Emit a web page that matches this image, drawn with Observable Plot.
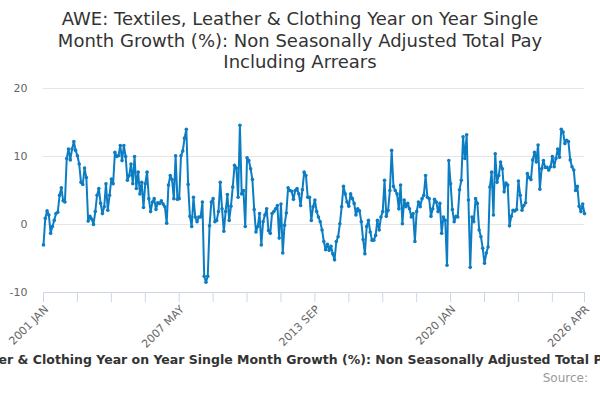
<!DOCTYPE html>
<html>
<head>
<meta charset="utf-8">
<script src="https://cdn.jsdelivr.net/npm/d3@7"></script>
<script src="https://cdn.jsdelivr.net/npm/@observablehq/plot@0.6"></script>
<style>
  body { margin: 0; background: #fff; }
  #wrap { position: relative; width: 600px; height: 400px; overflow: hidden; font-family: "DejaVu Sans", sans-serif; background: #fff; }
  #title { position: absolute; top: 8px; left: 0; width: 600px; text-align: center; font-size: 18px; line-height: 21.5px; color: #333; }
  #chart { position: absolute; top: 75px; left: 0; }
  #legend { position: absolute; top: 352px; left: -400px; width: 1400px; text-align: center; font-weight: bold; font-size: 12.5px; color: #333; white-space: nowrap; }
  #credits { position: absolute; top: 371px; right: 12px; font-size: 12px; color: #999; }
</style>
</head>
<body>
<div id="wrap">
  <div id="title">AWE: Textiles, Leather &amp; Clothing Year on Year Single<br>Month Growth (%): Non Seasonally Adjusted Total Pay<br>Including Arrears</div>
  <div id="chart"></div>
  <div id="legend">AWE: Textiles, Leather &amp; Clothing Year on Year Single Month Growth (%): Non Seasonally Adjusted Total Pay Including Arrears</div>
  <div id="credits">Source:</div>
</div>
<script>
// Monthly values, Jan 2001 onwards
const growth2001to2007 = [-3.0,0.9,2.0,1.4,-1.3,-0.3,0.6,1.6,1.8,4.3,5.4,3.5,3.3,9.7,11.1,9.5,11.1,12.2,10.9,10.1,8.9,6.2,5.9,8.3,6.9,0.5,
  1.2,0.8,0.0,1.9,4.3,5.3,3.1,1.6,2.6,6.0,2.1,4.3,6.7,6.0,10.6,10.0,10.1,11.6,9.4,11.6,10.0,6.5,7.2,8.9,6.0,10.0,5.3,7.7,4.5,6.2,
  2.5,6.0,7.7,3.8,1.9,3.3,3.8,2.2,3.2,3.1,3.5,3.0,2.6,0.2,5.8,7.2,6.6,3.8,10.1,3.7,3.8,10.1,10.8,12.7,14.0];
const growth2007to2014 = [5.9,1.2,-0.3,4.0,1.1,0.4,1.1,1.1,3.3,-7.6,-8.5,
  -7.6,-0.2,3.3,3.8,0.4,0.6,1.9,6.2,2.3,-1.0,1.9,4.4,0.6,2.7,5.5,8.7,8.3,4.0,14.6,
  4.5,5.0,-0.3,9.8,9.4,8.2,6.6,2.2,-1.1,-0.3,1.6,-3.0,0.4,1.4,2.3,-0.9,-1.3,1.6,1.9,2.3,
  2.8,-2.0,3.0,-4.2,-0.1,1.7,5.4,5.0,4.9,3.7,5.0,5.3,4.5,2.8,5.1,7.7,7.2,4.0,4.0,0.6,
  2.6,3.6,1.9,1.1,0.4,-0.8,-2.5,-3.7,-2.9,-3.8,-3.2,-4.3,-5.2,-2.5,-1.8,0.1];
const growth2014to2021 = [2.6,5.6,4.5,3.3,2.7,4.5,3.8,3.1,1.4,2.3,2.0,0.4,-2.2,-4.3,-0.3,0.6,-1.1,-2.3,-2.3,-1.6,
  0.6,-0.8,1.1,1.9,6.5,1.2,2.1,5.0,10.9,5.6,5.0,4.5,2.3,5.8,0.1,3.6,2.6,3.1,2.3,1.1,
  1.6,-2.5,1.9,3.3,2.6,3.8,4.3,7.2,4.0,3.8,1.2,2.3,3.7,3.3,1.9,3.1,-1.3,1.1,0.6,-6.0,
  9.4,6.0,2.2,0.4,1.2,1.1,5.1,6.5,12.9,9.7,13.2,3.6,-6.3,
  1.1,0.4,3.8,3.1,-0.8,-1.8,-3.5,-5.7,-4.2,-3.3,5.5];
const growth2021to2026 = [7.7,1.4,10.4,6.2,7.2,9.2,8.2,4.8,6.1,5.8,-0.2,1.2,2.1,2.0,2.2,6.4,4.3,2.1,2.8,3.2,
  7.5,6.9,6.6,9.5,10.6,9.2,11.7,5.2,8.2,9.4,8.4,8.4,8.0,8.5,10.0,8.5,9.7,11.1,9.9,14.0,
  13.6,11.9,12.4,12.2,9.5,8.5,8.0,5.0,5.6,2.7,1.9,3.0,1.6];

const monthNames = ["JAN","FEB","MAR","APR","MAY","JUN","JUL","AUG","SEP","OCT","NOV","DEC"];
const startYear = 2001;
const yTicks = [-10, 0, 10, 20];
const gridValues = [0, 10, 20];
const tickStep = 19;
const labelStep = 76;

const values = [...growth2001to2007, ...growth2007to2014, ...growth2014to2021, ...growth2021to2026];
const data = values.map((v, i) => ({i, v}));
const last = values.length - 1;
const monthLabel = i => `${startYear + Math.floor(i / 12)} ${monthNames[i % 12]}`;
const allTicks = d3.range(0, last, tickStep).concat([last]);
const labelTicks = d3.range(0, last, labelStep).concat([last]);

const color = "#0d7dc3";

const chart = Plot.plot({
  width: 600,
  height: 270,
  marginLeft: 43,
  marginRight: 16,
  marginTop: 13,
  marginBottom: 53,
  style: {fontFamily: "DejaVu Sans, sans-serif", fontSize: "11px", color: "#666", background: "white", overflow: "visible"},
  x: {type: "linear", domain: [0, last], label: null},
  y: {domain: [-10, 20], label: null},
  marks: [
    Plot.gridY(gridValues, {stroke: "#e6e6e6", strokeOpacity: 1}),
    Plot.axisY(yTicks, {tickSize: 0, tickPadding: 16, tickFormat: d => String(d), fill: "#666", fontSize: 11, label: null}),
    Plot.ruleY([-10], {stroke: "#ccd6eb"}),
    Plot.axisX(allTicks, {tickSize: 10, tickFormat: () => "", stroke: "#ccd6eb", strokeOpacity: 1, label: null}),
    Plot.axisX(labelTicks, {tickSize: 0, tickPadding: 15, dx: 3, tickRotate: -45, tickFormat: monthLabel, fill: "#666", fontSize: 11, label: null}),
    Plot.line(data, {x: "i", y: "v", stroke: color, strokeWidth: 2}),
    Plot.dot(data, {x: "i", y: "v", r: 1.8, fill: color})
  ]
});
document.getElementById("chart").append(chart);
</script>
</body>
</html>
